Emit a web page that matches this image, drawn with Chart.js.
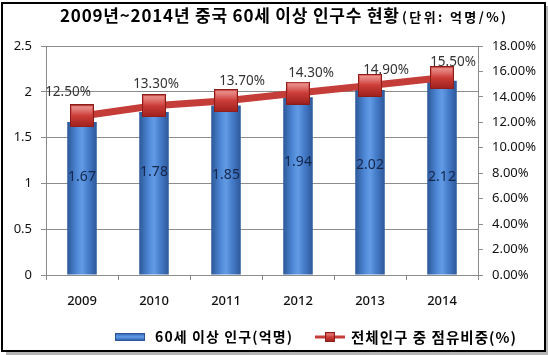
<!DOCTYPE html>
<html><head><meta charset="utf-8">
<script src="https://cdn.jsdelivr.net/npm/chart.js@4/dist/chart.umd.min.js"></script>
<style>html,body{margin:0;padding:0;background:#fff;overflow:hidden}</style>
</head><body>
<canvas id="c" width="548" height="355" style="display:block;width:548px;height:355px"></canvas>
<script>
// ---- data ----
const categories = ['2009', '2010', '2011', '2012', '2013', '2014'];
const population = [1.67, 1.78, 1.85, 1.94, 2.02, 2.12];      // 억명
const sharePct = [12.5, 13.3, 13.7, 14.3, 14.9, 15.5];         // %
const leftTicks = [0, 0.5, 1, 1.5, 2, 2.5];
const rightTicks = [0, 2, 4, 6, 8, 10, 12, 14, 16, 18];
const seriesNames = ['60세 이상 인구(억명)', '전체인구 중 점유비중(%)'];
const titleMain = '2009년~2014년 중국 60세 이상 인구수 현황';
const titleUnit = '(단위: 억명/%)';

// ---- style ----
const FONT = "'Noto Sans CJK KR', 'Noto Sans', sans-serif";
const NUMFONT = "'Noto Sans', 'Noto Sans CJK KR', sans-serif";
const GRID = '#8c8c8c';
const RED = '#c53d39';
const BAR_PCT = 0.41;
const pctLabelDx = [-14, 2, 16, 13, 16, 11];
const pctLabelDy = [-24, -22, -20, -20, -15, -16];
const barLabelDy = [-21, -21, -15, -24, -17, -1];

function makeMarker(w, h) {
  const c = document.createElement('canvas'); c.width = w; c.height = h;
  const g = c.getContext('2d');
  const gr = g.createLinearGradient(0, 0, 0, h);
  gr.addColorStop(0, '#e5706b'); gr.addColorStop(0.45, '#cf3f3a'); gr.addColorStop(1, '#9c1f1c');
  g.fillStyle = gr; g.fillRect(0, 0, w, h);
  const hl = g.createLinearGradient(0, 0, 0, h * 0.5);
  hl.addColorStop(0, 'rgba(255,255,255,0.35)'); hl.addColorStop(1, 'rgba(255,255,255,0)');
  g.fillStyle = hl; g.fillRect(2, 2, w - 4, h * 0.45);
  g.strokeStyle = '#8a1c1a'; g.lineWidth = 1; g.strokeRect(0.5, 0.5, w - 1, h - 1);
  return c;
}
const marker = makeMarker(24, 23);
const smallMarker = makeMarker(10, 10);

function blueGrad(ctx, x0, y0, x1, y1) {
  const g = ctx.createLinearGradient(x0, y0, x1, y1);
  g.addColorStop(0, '#2c5899');
  g.addColorStop(0.3, '#4c85d3');
  g.addColorStop(0.5, '#629be5');
  g.addColorStop(0.72, '#447bc9');
  g.addColorStop(1, '#2c5899');
  return g;
}

function barFill(context) {
  const chart = context.chart;
  const xs = chart.scales && chart.scales.x;
  if (!chart.chartArea || !xs || context.dataIndex === undefined) return '#3f74c2';
  const cx = xs.getPixelForValue(context.dataIndex);
  const half = (xs.width / categories.length) * BAR_PCT / 2;
  return blueGrad(chart.ctx, cx - half, 0, cx + half, 0);
}

function fitText(ctx, text, x, y, targetW) {
  ctx.letterSpacing = '0px';
  const w = ctx.measureText(text).width;
  const n = [...text].length;
  const ls = (targetW - w) / Math.max(1, n - 1);
  ctx.letterSpacing = ls + 'px';
  ctx.textAlign = 'left';
  ctx.fillText(text, x, y);
  ctx.letterSpacing = '0px';
}

const framePlugin = {
  id: 'frame',
  beforeDraw(chart) {
    const ctx = chart.ctx;
    ctx.save();
    ctx.fillStyle = '#fff'; ctx.fillRect(0, 0, chart.width, chart.height);
    ctx.fillStyle = '#b5b5b5';
    ctx.fillRect(6, 352, 542, 3);
    ctx.fillRect(546, 6, 2, 349);
    ctx.strokeStyle = '#000'; ctx.lineWidth = 2;
    ctx.strokeRect(2, 3, 543, 348);
    ctx.restore();
  },
  afterDatasetsDraw(chart) {
    const ctx = chart.ctx;
    ctx.save();
    ctx.textBaseline = 'middle'; ctx.textAlign = 'center';
    ctx.font = '14px ' + NUMFONT; ctx.fillStyle = '#14264a';
    chart.getDatasetMeta(0).data.forEach((el, i) => {
      const cy = (el.y + el.base) / 2 + barLabelDy[i];
      ctx.fillText(population[i].toFixed(2), el.x, cy);
    });
    ctx.font = '13.5px ' + NUMFONT; ctx.fillStyle = '#333';
    chart.getDatasetMeta(1).data.forEach((el, i) => {
      ctx.fillText(sharePct[i].toFixed(2) + '%', el.x + pctLabelDx[i], el.y + pctLabelDy[i]);
    });
    ctx.restore();
  },
  afterDraw(chart) {
    const ctx = chart.ctx;
    ctx.save();
    ctx.fillStyle = '#000'; ctx.textBaseline = 'middle';
    ctx.font = 'bold 17px ' + FONT;
    fitText(ctx, titleMain, 60, 16, 339);
    ctx.font = 'bold 13px ' + FONT;
    fitText(ctx, titleUnit, 402, 17, 104);
    const ly = 337;
    ctx.fillStyle = blueGrad(ctx, 0, ly - 4, 0, ly + 4);
    ctx.fillRect(115, ly - 4, 30, 8);
    ctx.strokeStyle = '#2a5597'; ctx.lineWidth = 1; ctx.strokeRect(115.5, ly - 3.5, 29, 7);
    ctx.fillStyle = '#000';
    ctx.font = 'bold 14px ' + FONT;
    fitText(ctx, seriesNames[0], 155, ly, 137);
    ctx.strokeStyle = RED; ctx.lineWidth = 3;
    ctx.beginPath(); ctx.moveTo(315, ly); ctx.lineTo(345, ly); ctx.stroke();
    ctx.drawImage(smallMarker, 325, ly - 5);
    ctx.fillStyle = '#000';
    ctx.font = 'bold 14.5px ' + FONT;
    fitText(ctx, seriesNames[1], 351, ly, 165);
    ctx.restore();
  }
};

new Chart(document.getElementById('c'), {
  data: {
    labels: categories,
    datasets: [
      {
        type: 'bar', label: seriesNames[0], data: population, yAxisID: 'y',
        backgroundColor: barFill, borderWidth: 0,
        barPercentage: BAR_PCT, categoryPercentage: 1, order: 2
      },
      {
        type: 'line', label: seriesNames[1], data: sharePct, yAxisID: 'y1',
        borderColor: RED, borderWidth: 7, tension: 0,
        pointStyle: marker, pointRadius: 12, pointHoverRadius: 12, order: 1
      }
    ]
  },
  options: {
    responsive: false, animation: false, devicePixelRatio: 1,
    layout: { padding: { top: 46, left: 0, right: 0, bottom: 0 } },
    plugins: { legend: { display: false }, title: { display: false }, tooltip: { enabled: false } },
    scales: {
      x: {
        offset: true,
        grid: { offset: true, drawOnChartArea: false, drawTicks: true, tickLength: 5, color: GRID },
        border: { color: GRID },
        ticks: { font: { family: NUMFONT, size: 13, weight: '500' }, color: '#111', padding: 13 },
        afterFit(s) { s.height = 80; }
      },
      y: {
        position: 'left', min: 0, max: 2.5,
        afterBuildTicks(s) { s.ticks = leftTicks.map(v => ({ value: v })); },
        ticks: { font: { family: NUMFONT, size: 13 }, color: '#111', padding: 9, callback: v => String(v) },
        grid: { color: GRID, tickLength: 5 },
        border: { color: GRID },
        afterFit(s) { s.width = 46; }
      },
      y1: {
        position: 'right', min: 0, max: 18,
        afterBuildTicks(s) { s.ticks = rightTicks.map(v => ({ value: v })); },
        ticks: { font: { family: NUMFONT, size: 13 }, color: '#111', padding: 9, callback: v => Number(v).toFixed(2) + '%' },
        grid: { drawOnChartArea: false, color: GRID, tickLength: 5 },
        border: { color: GRID },
        afterFit(s) { s.width = 70; }
      }
    }
  },
  plugins: [framePlugin]
});
</script>
</body></html>
